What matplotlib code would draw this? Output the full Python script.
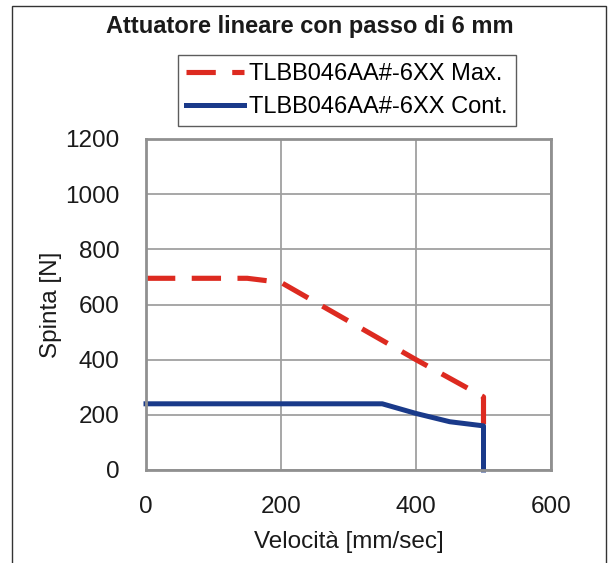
import matplotlib
matplotlib.use("Agg")
import matplotlib.pyplot as plt
from matplotlib.patches import Rectangle

# Data
max_speed = [0, 150, 200, 300, 400, 500, 500]
max_force = [695, 695, 680, 540, 400, 265, 160]
cont_speed = [0, 350, 400, 450, 500, 500]
cont_force = [240, 240, 205, 175, 160, 0]
x_ticks = [0, 200, 400, 600]
y_ticks = [0, 200, 400, 600, 800, 1000, 1200]
title = "Attuatore lineare con passo di 6 mm"
label_max = "TLBB046AA#-6XX Max."
label_cont = "TLBB046AA#-6XX Cont."
xlabel = "Velocità [mm/sec]"
ylabel = "Spinta [N]"

plt.rcParams['font.family'] = ['Liberation Sans', 'DejaVu Sans']

W, H = 609, 563
fig = plt.figure(figsize=(W/100, H/100), dpi=100)
fig.patch.set_facecolor('white')

# outer frame
fig.add_artist(Rectangle((12/W, -0.05), (606-12)/W, 1.05 - 5.5/H, transform=fig.transFigure,
                         fill=False, edgecolor='#333333', linewidth=1.0))

ax = fig.add_axes([146/W, (H-470)/H, 405/W, 331/H])
ax.set_xlim(0, 600)
ax.set_ylim(0, 1200)
ax.set_xticks(x_ticks)
ax.set_yticks(y_ticks)
ax.grid(True, color='#a0a0a0', linewidth=1.3)
ax.set_axisbelow(True)
for s in ax.spines.values():
    s.set_color('#909090')
    s.set_linewidth(2.0)
ax.tick_params(length=0, labelsize=17.5, colors='#1a1a1a')
ax.tick_params(axis='y', pad=19)
ax.tick_params(axis='x', pad=19)

lmax, = ax.plot(max_speed, max_force, color='#dd2a20', linewidth=3.7,
                dashes=(5.7, 3.2), label=label_max, solid_capstyle='butt', dash_capstyle='butt', clip_on=False)
lcont, = ax.plot(cont_speed, cont_force, color='#1a3a8a', linewidth=3.6,
                 label=label_cont, clip_on=False)

ax.set_xlabel(xlabel, fontsize=17.5, color='#1a1a1a', labelpad=9)
ax.set_ylabel(ylabel, fontsize=17.5, color='#1a1a1a', labelpad=2)

fig.text(310/W, 1-27/H, title, ha='center', va='center', fontsize=17, fontweight='bold', color='#1a1a1a')

leg = fig.legend(handles=[lmax, lcont], loc='upper left', bbox_to_anchor=(178/W, 1-55/H),
                 fontsize=17, frameon=True, fancybox=False, edgecolor='#333333',
                 handlelength=2.45, handletextpad=0.2, borderpad=0.35, labelspacing=0.45,
                 borderaxespad=0)
leg.get_frame().set_linewidth(1.0)

fig.savefig('out.png', dpi=100)
